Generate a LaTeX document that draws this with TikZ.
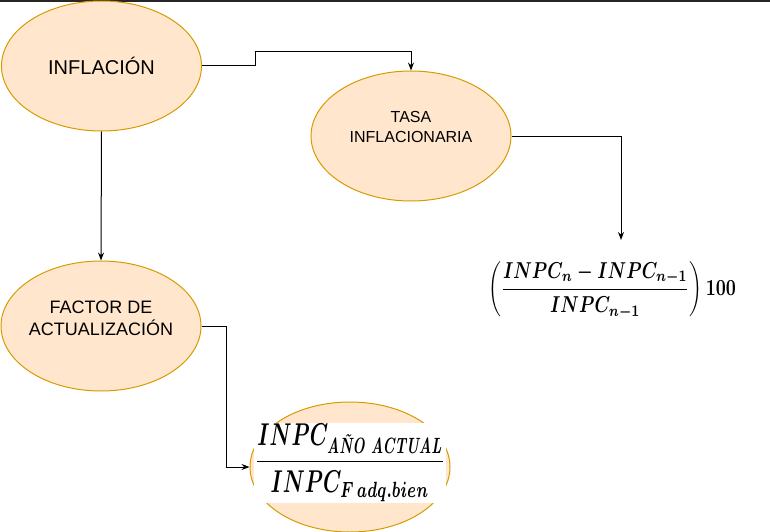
\documentclass[tikz,border=0pt]{standalone}
\usepackage{fontspec}
\usepackage{amsmath}
\usepackage{tikz}
\usetikzlibrary{arrows.meta}
\usetikzlibrary{shapes.geometric}
\newfontfamily\arialfont{Liberation Sans}
\definecolor{bolafondo}{HTML}{FFE6CC}
\definecolor{bolaborde}{HTML}{D79B00}
\tikzset{bola/.style={ellipse, draw=bolaborde, fill=bolafondo, line width=1, minimum width=200, minimum height=130, inner sep=0}}
\tikzset{texto/.style={align=center, inner sep=0}}
\tikzset{flecha/.style={black, line width=1, -{Stealth[length=8pt,width=6pt]}}}

\begin{document}
\begin{tikzpicture}[x=1pt,y=-1pt]
\useasboundingbox (0,0) rectangle (770,532);
\draw[black!85, line width=2] (0,1)--(770,1);
\node[bola, font=\arialfont\fontsize{20}{24}\selectfont] (infl) at (101.5,66) {INFLACIÓN};
\node[bola] (tasa) at (411,136) {};
\node[texto, font=\arialfont\fontsize{16}{20}\selectfont] (tasatxt) at ([yshift=9]tasa.center) {TASA\\INFLACIONARIA};
\node[bola] (fact) at (101,326) {};
\node[texto, font=\arialfont\fontsize{18}{22}\selectfont] (facttxt) at ([yshift=8]fact.center) {FACTOR DE\\ACTUALIZACIÓN};
\node[bola] (res) at (350,467) {};
\node[fill=white, inner sep=1] (frac2) at (350,463) {\resizebox*{190pt}{78pt}{\boldmath$\dfrac{INPC_{\textbf{\textit{AÑO ACTUAL}}}}{INPC_{F\,adq.bien}}$}};
\node[inner sep=0] (frac1) at (612,290.5) {\resizebox*{248pt}{57pt}{\boldmath$\left(\dfrac{INPC_n-INPC_{n-1}}{INPC_{n-1}}\right)100$}};
\coordinate (punta) at (621,240);
% conectores
\draw[flecha] (infl.east) -| (255,52) -| (tasa.north);
\draw[flecha] (infl.south) -- (fact.north);
\draw[flecha] (tasa.east) -| (punta);
\draw[flecha] (fact.east) -| (226,467) -- (res.west);
\end{tikzpicture}
\end{document}
